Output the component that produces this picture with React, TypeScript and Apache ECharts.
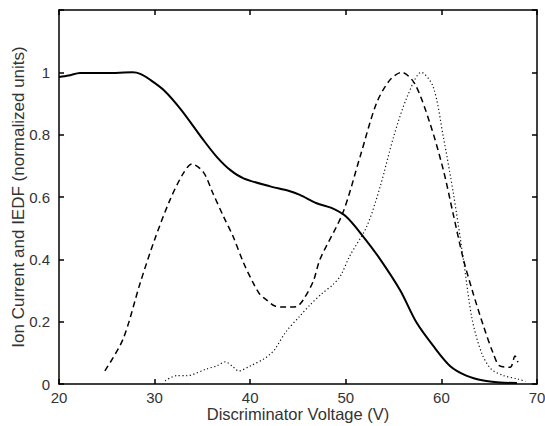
import React, { useEffect, useRef } from "react";
import * as echarts from "echarts";

// Ion current (solid)
const ionX = [20, 21, 22.2, 25, 27.7, 28.5, 29.5, 31, 32.8, 35.1, 36.5, 37.9, 39.3, 42.1, 44, 45.2, 46.95, 48.5, 50, 51.8, 53.6, 55.7, 57.4, 59.15, 60.9, 62.6, 64.4, 66.1, 67.9];
const ionY = [0.985, 0.99, 0.998, 0.998, 1.0, 0.995, 0.977, 0.942, 0.879, 0.783, 0.729, 0.687, 0.66, 0.634, 0.62, 0.607, 0.58, 0.565, 0.538, 0.474, 0.4, 0.3, 0.197, 0.122, 0.058, 0.027, 0.011, 0.005, 0.003];

// IEDF (dashed)
const iedfAX = [24.8, 26.7, 28.5, 30.0, 31.6, 33.0, 33.9, 35.1, 36.1, 37.2, 38.2, 39.3, 40.3, 41.0, 41.7, 42.6, 43.7, 44.8, 45.5, 46.6, 47.3, 49.7, 51.5, 53.2, 54.6, 55.85, 57.2, 58.8, 60.2, 61.2, 62.3, 63.3, 64.4, 65.4, 66.1, 67.2, 67.7, 68.0];
const iedfAY = [0.042, 0.144, 0.325, 0.463, 0.59, 0.676, 0.706, 0.68, 0.612, 0.538, 0.474, 0.389, 0.325, 0.288, 0.27, 0.25, 0.247, 0.248, 0.268, 0.33, 0.4, 0.55, 0.73, 0.9, 0.975, 1.0, 0.964, 0.837, 0.687, 0.55, 0.4, 0.293, 0.186, 0.1, 0.058, 0.054, 0.09, 0.07];

// IEDF (dotted)
const iedfBX = [31.1, 32.3, 33.4, 35.4, 36.5, 37.4, 38.1, 38.8, 40.0, 41.4, 42.1, 42.6, 43.7, 45.2, 46.3, 47.5, 48.7, 49.5, 50.4, 52.2, 53.6, 55.0, 56.4, 57.9, 59.15, 60.2, 61.25, 62.3, 63.2, 64.2, 65.2, 66.5, 68.0, 68.8];
const iedfBY = [0.01, 0.027, 0.027, 0.048, 0.058, 0.071, 0.058, 0.042, 0.058, 0.08, 0.096, 0.112, 0.166, 0.218, 0.255, 0.29, 0.32, 0.35, 0.41, 0.506, 0.634, 0.793, 0.92, 1.0, 0.953, 0.793, 0.612, 0.4, 0.21, 0.1, 0.048, 0.027, 0.016, 0.008];

const xTicks = { min: 20, max: 70, interval: 10 };
const yTicks = { min: 0, max: 1.2, interval: 0.2 };
const xName = "Discriminator Voltage (V)";
const yName = "Ion Current and IEDF (normalized units)";

const zip = (xs: number[], ys: number[]) => xs.map((x, i) => [x, ys[i]]);

const FONT = "'Liberation Sans', Arial, sans-serif";
const TEXT = "#333";

export default function App() {
  const ref = useRef<HTMLDivElement>(null);
  useEffect(() => {
    if (!ref.current) return;
    const chart = echarts.init(ref.current, undefined, { renderer: "svg" });
    const axisLine = { show: true, onZero: false, lineStyle: { color: "#000", width: 1.5 } };
    const tick = { show: true, inside: true, length: 5, lineStyle: { color: "#000", width: 1.5 } };
    chart.setOption({
      animation: false,
      backgroundColor: "#fff",
      grid: { left: 59, right: 8, top: 10, bottom: 42, containLabel: false, outerBoundsMode: "none" },
      xAxis: [
        {
          type: "value",
          ...xTicks,
          position: "bottom",
          axisLine,
          axisTick: tick,
          splitLine: { show: false },
          axisLabel: { color: TEXT, fontSize: 15, fontFamily: FONT, margin: 6 },
          name: xName,
          nameLocation: "middle",
          nameGap: 21,
          nameMoveOverlap: false,
          nameTextStyle: { color: TEXT, fontSize: 16.5, fontFamily: FONT },
        },
        {
          type: "value",
          ...xTicks,
          position: "top",
          axisLine,
          axisTick: tick,
          splitLine: { show: false },
          axisLabel: { show: false },
        },
      ],
      yAxis: [
        {
          type: "value",
          ...yTicks,
          position: "left",
          axisLine,
          axisTick: tick,
          splitLine: { show: false },
          axisLabel: {
            color: TEXT,
            fontSize: 15,
            fontFamily: FONT,
            margin: 9,
            formatter: (v: number) => (v > 1.1 ? "" : String(Math.round(v * 10) / 10)),
          },
          name: yName,
          nameLocation: "middle",
          nameGap: 32,
          nameMoveOverlap: false,
          nameTextStyle: { color: TEXT, fontSize: 17, fontFamily: FONT },
        },
        {
          type: "value",
          ...yTicks,
          position: "right",
          axisLine,
          axisTick: tick,
          splitLine: { show: false },
          axisLabel: { show: false },
        },
      ],
      series: [
        {
          type: "line",
          data: zip(ionX, ionY),
          showSymbol: false,
          lineStyle: { color: "#000", width: 2 },
          smooth: 0.3,
        },
        {
          type: "line",
          data: zip(iedfAX, iedfAY),
          showSymbol: false,
          lineStyle: { color: "#000", width: 1.5, type: [6, 4] },
          smooth: 0.3,
        },
        {
          type: "line",
          data: zip(iedfBX, iedfBY),
          showSymbol: false,
          lineStyle: { color: "#111", width: 1.2, type: [1.2, 2.5] },
          smooth: 0.3,
        },
      ],
    });
    return () => chart.dispose();
  }, []);
  return (
    <div
      ref={ref}
      style={{ position: "absolute", left: 0, top: 0, width: 545, height: 426 }}
    />
  );
}
